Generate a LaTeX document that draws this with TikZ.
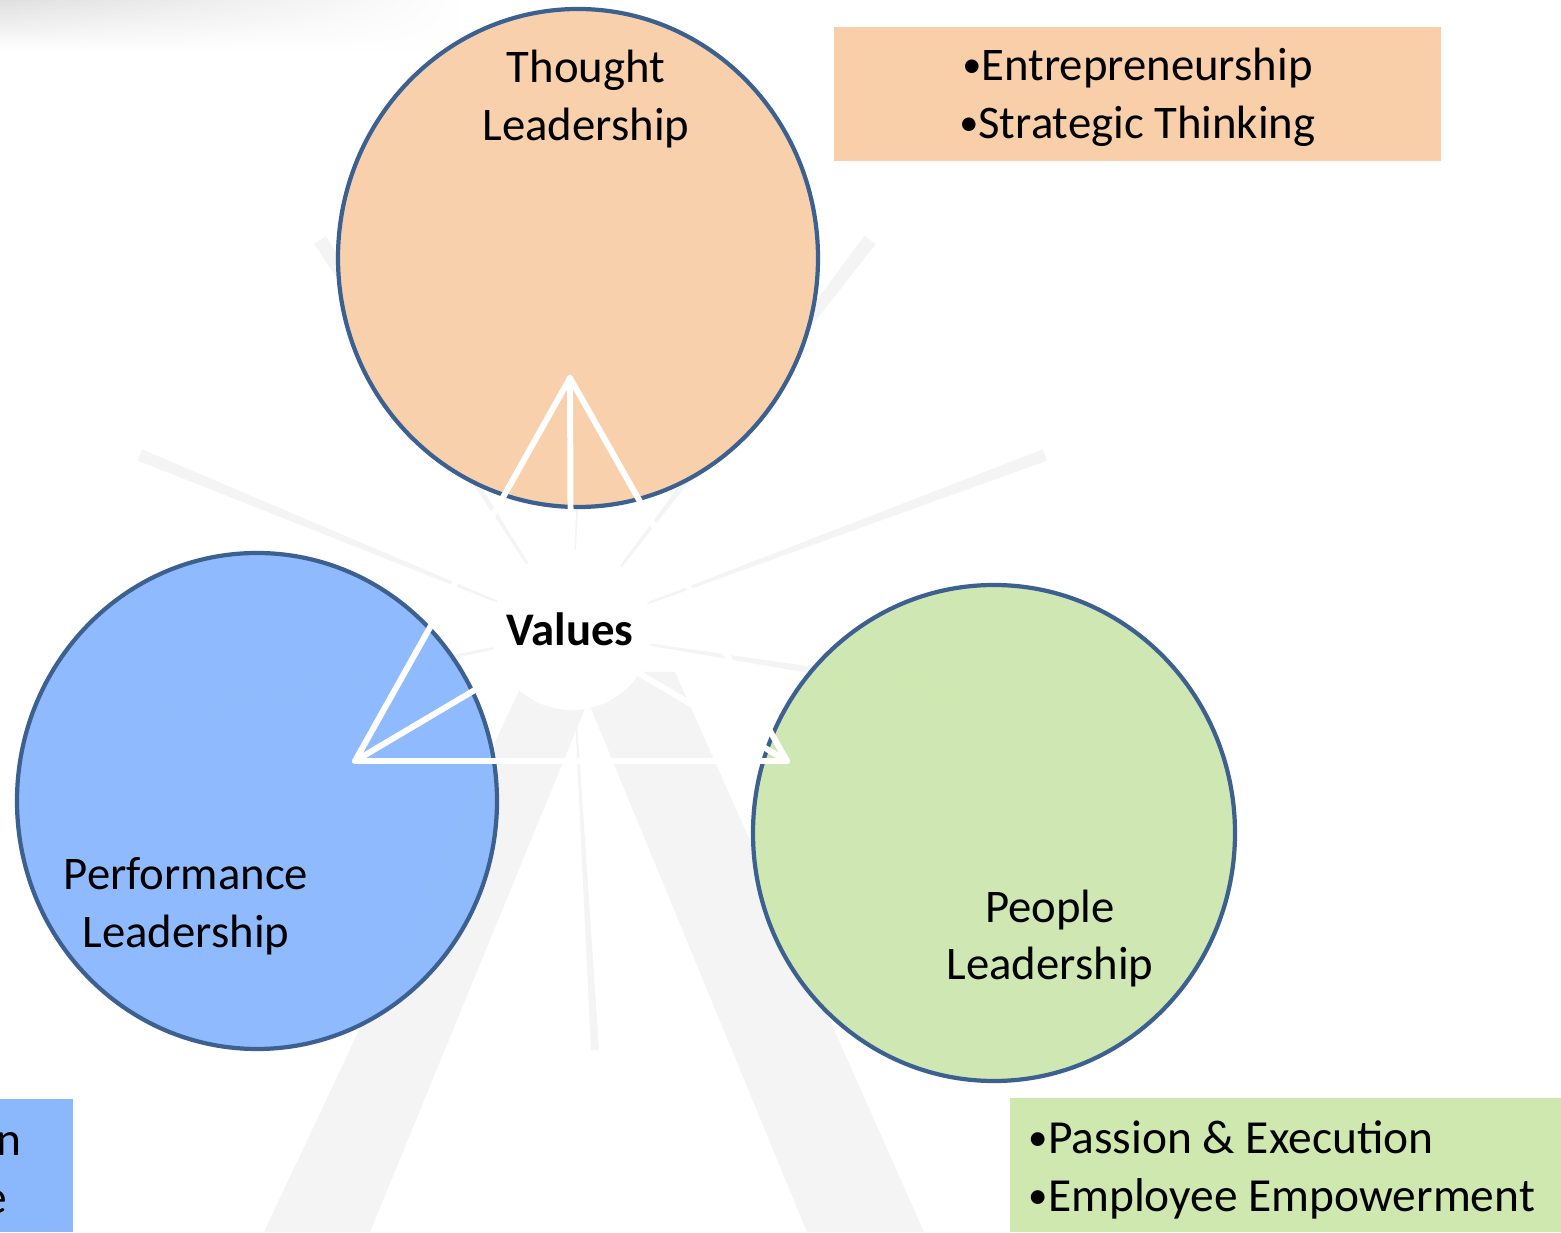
\documentclass[tikz,border=0pt]{standalone}
\usepackage{fontspec}
\setmainfont{Carlito}
\usepackage{xcolor}
\usepackage{tikz}
\usetikzlibrary{calc}
\usetikzlibrary{fadings}

\definecolor{ringline}{HTML}{3C6090}
\definecolor{peach}{HTML}{F9CFA9}
\definecolor{sky}{HTML}{8BB8FD}
\definecolor{leaf}{HTML}{CEE8B0}
\definecolor{raygray}{HTML}{F4F4F4}

\newcommand{\dotmark}{\raisebox{0.15ex}{\scalebox{0.82}{\textbullet}}}
\tikzfading[name=fade away right, left color=transparent!0, right color=transparent!100]

\tikzset{
	ring/.style={draw=ringline, line width=1.2pt},
	lead/.style={font=\fontsize{13.3}{16.4}\selectfont, align=center, inner sep=0pt},
	notetext/.style={font=\fontsize{13.5}{16.4}\selectfont, inner sep=0pt},
	spoke/.style={draw=white, line width=1.7pt, line cap=round, line join=round}
}

\begin{document}
\begin{tikzpicture}
	\clip (0,0) rectangle (15.61,12.32);
	\fill[white] (0,0) rectangle (15.61,12.32);
	\shade[top color=black!12, bottom color=white, path fading=fade away right] (0,11.82) rectangle (4.6,12.32);

	% faint rays behind
	\coordinate (c) at (5.71,6.0);
	\foreach \x/\y/\w in {3.2/9.92/0.07, 8.7/9.92/0.07, 1.4/7.77/0.06, 10.45/7.77/0.06, 1.5/5.12/0.06, 10.0/5.32/0.06, 5.95/1.82/0.04, 5.98/11.4/0.04}
	{
		\fill[raygray] (c) -- ($(\x,\y)!\w cm!90:(c)$) -- ($(\x,\y)!\w cm!-90:(c)$) -- cycle;
	}
	\fill[raygray] (5.28,5.6) -- (6.0,5.6) -- (3.70,0) -- (2.64,0) -- cycle;
	\fill[raygray] (5.76,5.6) -- (6.75,5.6) -- (9.24,0) -- (8.07,0) -- cycle;
	\fill[white] (5.72,6.02) circle (0.8);

	% the three circles
	\draw[ring, fill=peach, fill opacity=0.96] (5.78,9.74) ellipse (2.40 and 2.49);
	\draw[ring, fill=sky, fill opacity=0.96] (2.57,4.31) ellipse (2.40 and 2.48);
	\draw[ring, fill=leaf, fill opacity=0.96] (9.94,3.99) ellipse (2.41 and 2.48);

	% triangle
	\coordinate (apex) at (5.70,8.54);
	\coordinate (west) at (3.55,4.71);
	\coordinate (east) at (7.87,4.71);
	\coordinate (mid) at (5.71,5.99);
	\draw[spoke] (apex) -- (west) -- (east) -- cycle;
	\draw[spoke] (apex) -- (mid);
	\draw[spoke] (west) -- (mid);
	\draw[spoke] (east) -- (mid);

	\node[lead] (thought) at (5.86,11.33) {Thought\\Leadership};
	\node[lead] (perform) at (1.86,3.255) {Performance\\Leadership};
	\node[lead] (people) at (10.50,2.935) {People\\Leadership};
	\node[lead, font=\fontsize{13.3}{16.4}\selectfont\bfseries] (values) at (5.70,6.03) {Values};

	% boxes
	\fill[peach] (8.34,10.71) rectangle (14.41,12.05);
	\node[lead] (thoughtnote) at (11.375,11.345) {\dotmark Entrepreneurship\\\dotmark Strategic Thinking};
	\fill[sky] (0,0) rectangle (0.73,1.33);
	\node[notetext, anchor=east] (performnote) at (0.22,0.88) {n};
	\node[notetext, anchor=east] (performnote2) at (0.08,0.30) {e};
	\fill[leaf] (10.10,0) rectangle (15.61,1.34);
	\node[notetext, align=left, anchor=west] (peoplenote) at (10.28,0.62) {\dotmark Passion \& Execution\\\dotmark Employee Empowerment};
\end{tikzpicture}
\end{document}
